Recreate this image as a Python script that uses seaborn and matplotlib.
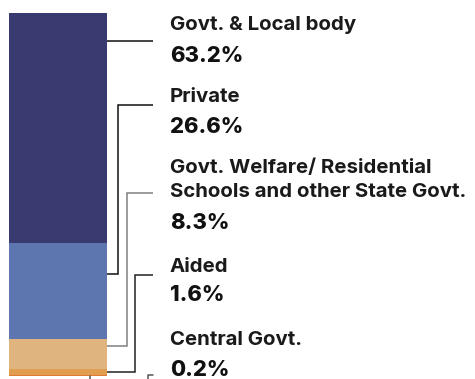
import numpy as np
import pandas as pd
import seaborn as sns
import matplotlib.pyplot as plt

# management share of schools (%), top of bar to bottom
categories = ["Govt. & Local body", "Private",
              "Govt. Welfare/ Residential\nSchools and other State Govt.",
              "Aided", "Central Govt."]
shares = [63.2, 26.6, 8.3, 1.6, 0.2]
pct_labels = ["63.2%", "26.6%", "8.3%", "1.6%", "0.2%"]
colors = ["#383a70", "#5e76b0", "#dfb47e", "#e29e50", "#e07a35"]

sns.set_theme(style="white")
plt.rcParams['font.family'] = ['Inter', 'DejaVu Sans']

W, H = 475, 379
fig = plt.figure(figsize=(W / 100, H / 100), dpi=100)

# the single stacked bar: draw cumulative bars, tallest first
ax = fig.add_axes([9 / W, 0, 98 / W, 1])
cum = np.cumsum(shares[::-1])[::-1]
df = pd.DataFrame({"cat": categories, "top": cum})
for i in range(len(categories)):
    sns.barplot(x=[0], y=[df["top"][i]], color=colors[i], width=1.0,
                saturation=1, ax=ax, edgecolor="none", linewidth=0)
ax.set_xlim(-0.5, 0.5)
ax.set_ylim(-3 * 100 / 363, 100 + 13 * 100 / 363)
ax.axis("off")

# overlay in pixel coords for leader lines and labels
ov = fig.add_axes([0, 0, 1, 1], facecolor="none")
ov.set_xlim(0, W)
ov.set_ylim(H, 0)
ov.axis("off")

def to_px(v):
    # bar-axis value -> pixel row
    lo, hi = ax.get_ylim()
    return H - (v - lo) / (hi - lo) * H

anchors = [92.3, 28.1, 8.3, 1.1]
elbows = [None, 118, 127, 135]
label_y = [41, 105, 193, 275]
line_cols = ["#111111", "#111111", "#808080", "#222222"]
for a, e, ly, c in zip(anchors, elbows, label_y, line_cols):
    y0 = to_px(a)
    if e is None:
        ov.plot([107, 153], [ly, ly], color=c, lw=1.1, solid_capstyle="butt")
    else:
        ov.plot([107, e, e, 153], [y0, y0, ly, ly], color=c, lw=1.1,
                solid_capstyle="butt", solid_joinstyle="miter")
# central govt leader runs below the bar
ov.plot([90, 90, 148, 148, 153], [376, 390, 390, 375, 375],
        color="#555555", lw=1.1, clip_on=False)

name_y = [25, 97, [168, 192], 267, 340]
pct_y = [56, 127, 223, 295, 370]
for cat, ny, p, py in zip(categories, name_y, pct_labels, pct_y):
    if isinstance(ny, list):
        for line, yy in zip(cat.split("\n"), ny):
            ov.text(170, yy, line, fontsize=14.7, fontweight="bold",
                    color="#1a1a1a", va="center", ha="left")
    else:
        ov.text(170, ny, cat, fontsize=14.7, fontweight="bold",
                color="#1a1a1a", va="center", ha="left")
    ov.text(170, py, p, fontsize=15.8, fontweight="heavy",
            color="#111111", va="center", ha="left")

fig.savefig("out.png", dpi=100)
